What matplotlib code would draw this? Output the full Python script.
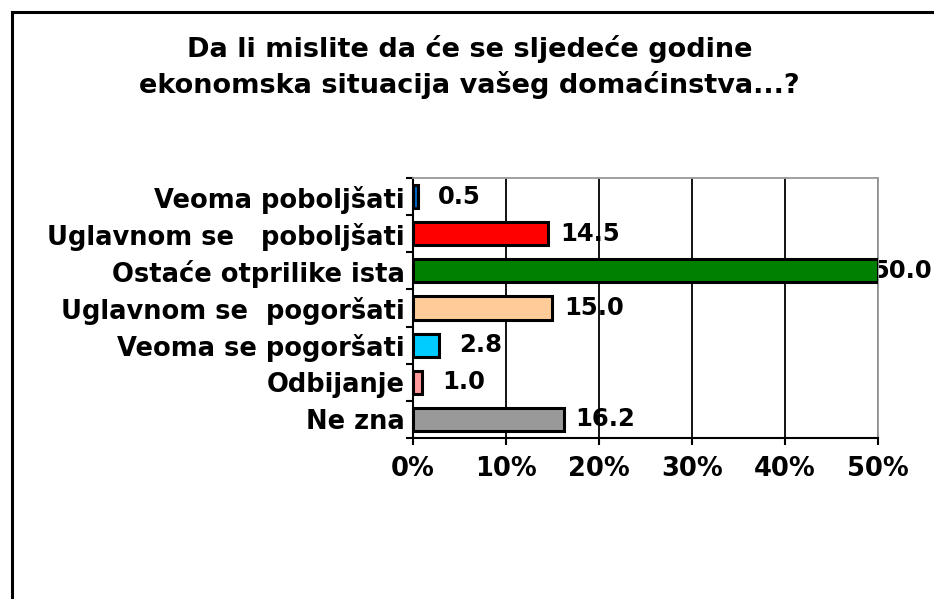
import matplotlib.pyplot as plt
import numpy as np
from matplotlib.lines import Line2D

categories = ['Veoma poboljšati', 'Uglavnom se   poboljšati', 'Ostaće otprilike ista',
              'Uglavnom se  pogoršati', 'Veoma se pogoršati', 'Odbijanje', 'Ne zna']
values = [0.5, 14.5, 50.0, 15.0, 2.8, 1.0, 16.2]
colors = ['#0066CC', '#FF0000', '#008000', '#FFCC99', '#00CCFF', '#FF9999', '#999999']
xticks = [0, 10, 20, 30, 40, 50]

plt.rcParams['font.family'] = 'DejaVu Sans'
plt.rcParams['font.weight'] = 'bold'

fig = plt.figure(figsize=(9.34, 5.99), dpi=100)
ax = fig.add_axes([0.4422, 0.2688, 0.4978, 0.434])

y = np.arange(len(categories))[::-1]
ax.barh(y, values, height=0.62, color=colors, edgecolor='black', linewidth=2.2, zorder=3)

labels = []
for yi, v in zip(y, values):
    t = ax.text(v + 4.5, yi, f'{v:.1f}', ha='center', va='center', fontsize=17.5,
                fontweight='bold', zorder=2, clip_on=False)
    labels.append(t)

ax.set_xlim(0, 50)
ax.set_ylim(-0.5, len(categories) - 0.5)
ax.set_xticks(xticks)
ax.set_xticklabels([f'{t}%' for t in xticks], fontsize=18.5, fontweight='bold')
ax.set_yticks(y)
ax.set_yticklabels(categories, fontsize=18.5, fontweight='bold')
ax.set_yticks(np.arange(-0.5, len(categories)), minor=True)
ax.tick_params(axis='y', which='major', length=0, pad=6)
ax.tick_params(axis='y', which='minor', length=5, width=1.5, direction='out')
ax.tick_params(axis='x', length=5, width=1.5, direction='out', pad=8)

ax.grid(axis='x', color='black', linewidth=1.3, zorder=0)
ax.set_axisbelow(True)
ax.spines['left'].set_linewidth(1.5)
ax.spines['bottom'].set_linewidth(1.5)
ax.spines['top'].set_color('#999999')
ax.spines['right'].set_color('#999999')
ax.spines['top'].set_linewidth(1.3)
ax.spines['right'].set_linewidth(1.3)

fig.text(0.503, 0.888, 'Da li mislite da će se sljedeće godine\nekonomska situacija vašeg domaćinstva...?',
         ha='center', va='center', fontsize=19.5, fontweight='bold', linespacing=1.4)

# chart frame (only left and top edges are visible)
fig.add_artist(Line2D([11.5 / 934, 11.5 / 934], [0, 1 - 11.5 / 599], color='black', linewidth=2.2))
fig.add_artist(Line2D([11.5 / 934, 1], [1 - 11.5 / 599, 1 - 11.5 / 599], color='black', linewidth=2.2))

# like Excel, push data labels back inside the chart area
fig.canvas.draw()
renderer = fig.canvas.get_renderer()
fig_w = fig.bbox.width
for t in labels:
    bb = t.get_window_extent(renderer)
    if bb.x1 > fig_w - 2:
        shift = bb.x1 - (fig_w - 2)
        x_disp, y_disp = ax.transData.transform(t.get_position())
        t.set_position(ax.transData.inverted().transform((x_disp - shift, y_disp)))

fig.savefig('out.png', dpi=100)
